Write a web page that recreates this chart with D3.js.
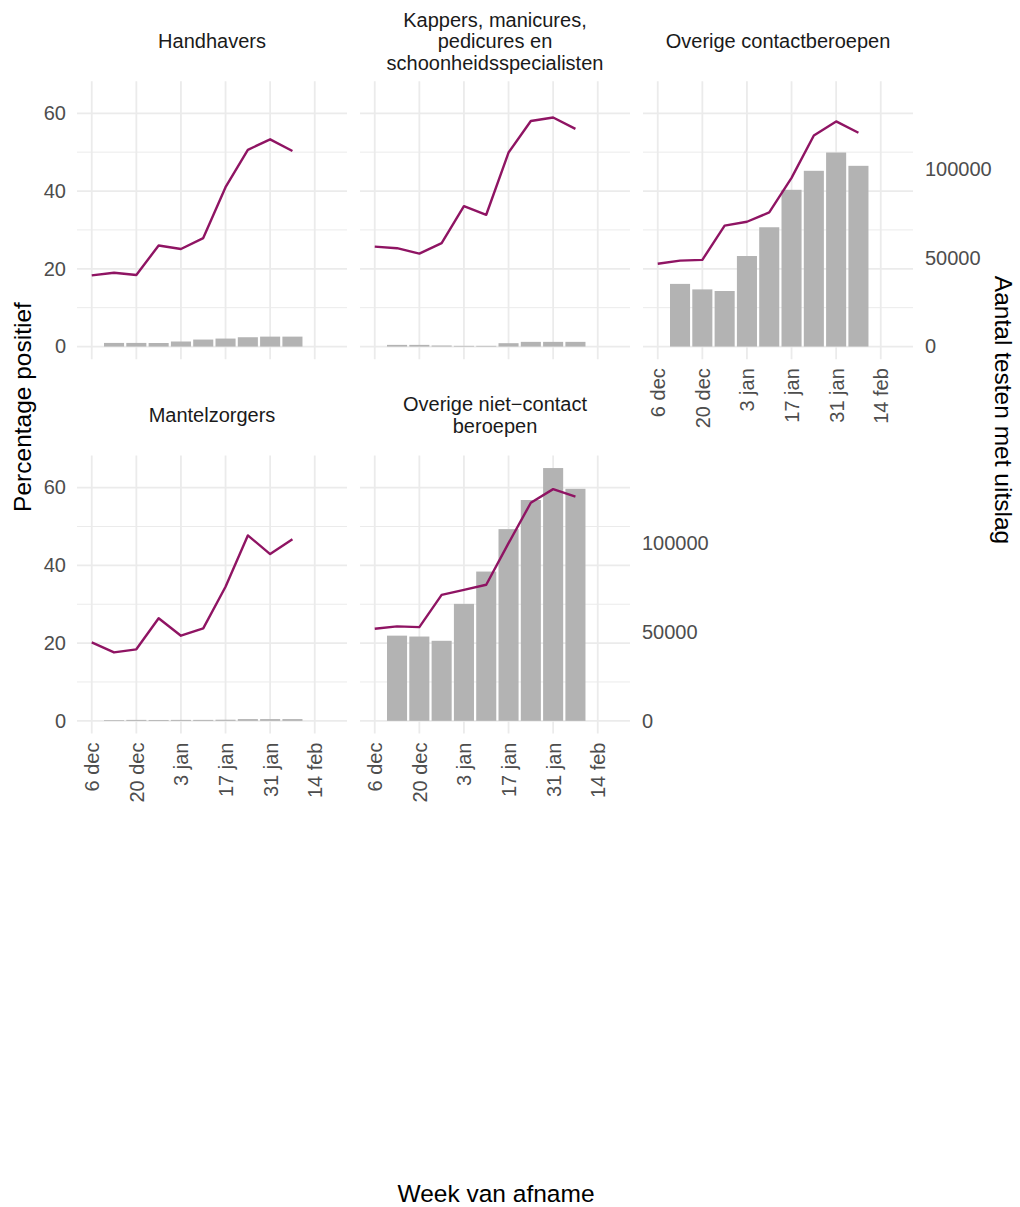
<!DOCTYPE html>
<html>
<head>
<meta charset="utf-8">
<script src="https://cdn.jsdelivr.net/npm/d3@7"></script>
<style>
  body { margin: 0; background: #fff; }
  svg { font-family: "Liberation Sans", Arial, sans-serif; }
</style>
</head>
<body>
<svg id="chart" width="1020" height="1207"></svg>
<script>
// weeks (start of week of sampling)
var weeks = ["2020-12-06", "2020-12-13", "2020-12-20", "2020-12-27", "2021-01-03",
             "2021-01-10", "2021-01-17", "2021-01-24", "2021-01-31", "2021-02-07"];

var tickDates = ["2020-12-06", "2020-12-20", "2021-01-03", "2021-01-17", "2021-01-31", "2021-02-14"];
var tickLabels = ["6 dec", "20 dec", "3 jan", "17 jan", "31 jan", "14 feb"];

// facet titles (line broken like the strips)
var titles = [
    ["Handhavers"],
    ["Kappers, manicures,", "pedicures en", "schoonheidsspecialisten"],
    ["Overige contactberoepen"],
    ["Mantelzorgers"],
    ["Overige niet\u2212contact", "beroepen"]
];

// percentage positief per week
var pctHandhavers = [18.3, 19.0, 18.4, 26.0, 25.1, 27.9, 41.0, 50.6, 53.3, 50.3];
var pctKappers = [25.7, 25.3, 23.9, 26.6, 36.1, 33.9, 49.9, 58.0, 58.9, 56.0];
var pctContact = [21.3, 22.1, 22.3, 31.1, 32.1, 34.5, 43.4, 54.3, 57.9, 55.0];
var pctMantelzorg = [20.2, 17.6, 18.4, 26.4, 21.9, 23.8, 34.5, 47.7, 42.9, 46.7];
var pctNietContact = [23.7, 24.3, 24.1, 32.4, 33.7, 35.0, 45.7, 56.1, 59.6, 57.7];

// aantal testen met uitslag per week (no bar for the first week)
var testsHandhavers = [null, 2050, 2050, 2000, 2850, 3950, 4500, 5250, 5600, 5600];
var testsKappers = [null, 950, 950, 600, 400, 400, 1900, 2650, 2650, 2650];
var testsContact = [null, 35300, 32200, 31300, 51000, 67200, 88300, 99000, 109300, 101800];
var testsMantelzorg = [null, 400, 550, 500, 550, 550, 650, 1000, 1000, 1000];
var testsNietContact = [null, 48000, 47500, 45100, 65900, 84100, 108000, 124400, 142400, 130700];

var pctSeries = [pctHandhavers, pctKappers, pctContact, pctMantelzorg, pctNietContact];
var testSeries = [testsHandhavers, testsKappers, testsContact, testsMantelzorg, testsNietContact];

// ratio between secondary axis (tests) and primary axis (percentage)
var secFactor = 2190;

var parseDate = d3.timeParse("%Y-%m-%d");
var weekDates = weeks.map(parseDate);
var tickDateObjs = tickDates.map(parseDate);

// Layout of the facet grid
var panelW = 270, panelH = 278;
var colX = [77, 360, 643];
var rowY = [81.2, 455.5];
var stripY = [41, 415];

var lineColor = "#8F1463";
var barColor = "#B3B3B3";
var gridColor = "#EBEBEB";
var textGray = "#4D4D4D";

var svg = d3.select("#chart");

var x = d3.scaleTime()
    .domain([new Date(2020, 11, 1, 9), new Date(2021, 1, 24, 3)])
    .range([0, panelW]);

var y = d3.scaleLinear()
    .domain([-3.25, 68.25])
    .range([panelH, 0]);

var ySec = d3.scaleLinear()
    .domain(y.domain().map(function(d) { return d * secFactor; }))
    .range([panelH, 0]);

var barDays = 7 * 0.9;

function addDays(date, n) {
    return new Date(date.getTime() + n * 86400000);
}

titles.forEach(function(title, i) {
    var col = i % 3;
    var row = Math.floor(i / 3);
    var g = svg.append("g")
        .attr("transform", "translate(" + colX[col] + "," + rowY[row] + ")");

    // minor grid
    g.selectAll(".minor")
        .data([10, 30, 50])
        .enter().append("line")
        .attr("x1", 0).attr("x2", panelW)
        .attr("y1", function(d) { return y(d); })
        .attr("y2", function(d) { return y(d); })
        .attr("stroke", gridColor)
        .attr("stroke-width", 1);

    // major grid
    g.selectAll(".majorY")
        .data([0, 20, 40, 60])
        .enter().append("line")
        .attr("x1", 0).attr("x2", panelW)
        .attr("y1", function(d) { return y(d); })
        .attr("y2", function(d) { return y(d); })
        .attr("stroke", gridColor)
        .attr("stroke-width", 1.8);

    g.selectAll(".majorX")
        .data(tickDateObjs)
        .enter().append("line")
        .attr("x1", function(d) { return x(d); })
        .attr("x2", function(d) { return x(d); })
        .attr("y1", 0).attr("y2", panelH)
        .attr("stroke", gridColor)
        .attr("stroke-width", 1.8);

    // bars (tests, on secondary scale)
    var bars = weekDates.map(function(d, j) {
        return { date: d, value: testSeries[i][j] };
    }).filter(function(d) { return d.value !== null; });

    g.selectAll(".bar")
        .data(bars)
        .enter().append("rect")
        .attr("x", function(d) { return x(addDays(d.date, -barDays / 2)); })
        .attr("width", function(d) {
            return x(addDays(d.date, barDays / 2)) - x(addDays(d.date, -barDays / 2));
        })
        .attr("y", function(d) { return ySec(d.value); })
        .attr("height", function(d) { return ySec(0) - ySec(d.value); })
        .attr("fill", barColor);

    // percentage line
    var line = d3.line()
        .x(function(d, j) { return x(weekDates[j]); })
        .y(function(d) { return y(d); });

    g.append("path")
        .datum(pctSeries[i])
        .attr("d", line)
        .attr("fill", "none")
        .attr("stroke", lineColor)
        .attr("stroke-width", 2.4)
        .attr("stroke-linejoin", "round");

    // strip title
    var lh = 21.5;
    var strip = svg.append("text")
        .attr("text-anchor", "middle")
        .attr("font-size", "20px")
        .attr("fill", "#1A1A1A");
    title.forEach(function(t, k) {
        strip.append("tspan")
            .attr("x", colX[col] + panelW / 2)
            .attr("y", stripY[row] + (k - (title.length - 1) / 2) * lh)
            .attr("dy", "0.35em")
            .text(t);
    });

    // left axis on first column
    if (col === 0) {
        var ay = g.append("g")
            .call(d3.axisLeft(y).tickValues([0, 20, 40, 60]).tickSize(0).tickPadding(11));
        ay.select(".domain").remove();
        ay.selectAll("text").attr("font-size", "20px").attr("fill", textGray)
            .attr("font-family", "Liberation Sans, Arial, sans-serif");
    }

    // bottom axis where no panel below
    if (row === 1 || col === 2) {
        var ax = g.append("g")
            .attr("transform", "translate(0," + panelH + ")")
            .call(d3.axisBottom(x).tickValues(tickDateObjs)
                .tickFormat(function(d, k) { return tickLabels[k]; })
                .tickSize(0));
        ax.select(".domain").remove();
        ax.selectAll("text")
            .attr("font-size", "20px").attr("fill", textGray)
            .attr("font-family", "Liberation Sans, Arial, sans-serif")
            .attr("transform", "rotate(-90)")
            .attr("x", -9).attr("y", 0).attr("dy", "0.35em")
            .style("text-anchor", "end");
    }

    // secondary axis at the right end of each row
    if (i === 2 || i === 4) {
        var as = g.append("g")
            .attr("transform", "translate(" + panelW + ",0)")
            .call(d3.axisRight(ySec).tickValues([0, 50000, 100000])
                .tickFormat(d3.format("d")).tickSize(0).tickPadding(12));
        as.select(".domain").remove();
        as.selectAll("text").attr("font-size", "20px").attr("fill", textGray)
            .attr("font-family", "Liberation Sans, Arial, sans-serif");
    }
});

// axis titles
svg.append("text")
    .attr("transform", "translate(31,407) rotate(-90)")
    .attr("text-anchor", "middle")
    .attr("font-size", "24.5px")
    .attr("fill", "#000")
    .text("Percentage positief");

svg.append("text")
    .attr("transform", "translate(995,410) rotate(90)")
    .attr("text-anchor", "middle")
    .attr("font-size", "24.5px")
    .attr("fill", "#000")
    .text("Aantal testen met uitslag");

svg.append("text")
    .attr("x", 496)
    .attr("y", 1202)
    .attr("text-anchor", "middle")
    .attr("font-size", "24.5px")
    .attr("fill", "#000")
    .text("Week van afname");
</script>
</body>
</html>
